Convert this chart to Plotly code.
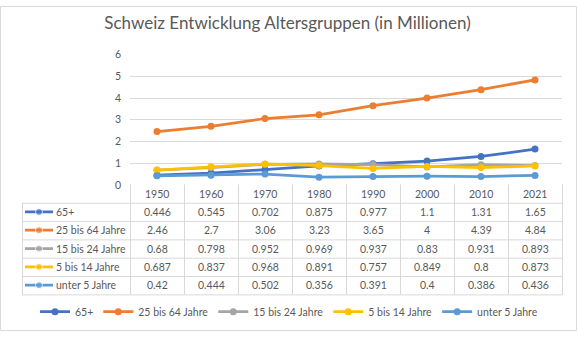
import plotly.graph_objects as go

years = ["1950", "1960", "1970", "1980", "1990", "2000", "2010", "2021"]
names = ["65+", "25 bis 64 Jahre", "15 bis 24 Jahre", "5 bis 14 Jahre", "unter 5 Jahre"]
v65 = [0.446, 0.545, 0.702, 0.875, 0.977, 1.1, 1.31, 1.65]
v25_64 = [2.46, 2.7, 3.06, 3.23, 3.65, 4, 4.39, 4.84]
v15_24 = [0.68, 0.798, 0.952, 0.969, 0.937, 0.83, 0.931, 0.893]
v5_14 = [0.687, 0.837, 0.968, 0.891, 0.757, 0.849, 0.8, 0.873]
vu5 = [0.42, 0.444, 0.502, 0.356, 0.391, 0.4, 0.386, 0.436]
colors = ["#4472C4", "#ED7D31", "#A5A5A5", "#FFC000", "#5B9BD5"]
series = [v65, v25_64, v15_24, v5_14, vu5]

W, H = 578, 338
def px(x):
    return x / W
def py(y):
    return 1 - y / H

TXT = "#595959"
GRID = "#d9d9d9"
FONT = "Lato"
FS = 10.5

# table geometry (pixels)
T_LEFT, T_LABEL_RIGHT, T_RIGHT = 22, 130, 562
T_TOP, ROW_H = 185, 19
n_rows = len(names)
n_cols = len(years)
col_w = (T_RIGHT - T_LABEL_RIGHT) / n_cols
body_top = T_TOP + ROW_H
body_bottom = body_top + ROW_H * n_rows

fig = go.Figure()
idx = list(range(n_cols))
for name, vals, col in zip(names, series, colors):
    fig.add_trace(go.Scatter(
        x=idx, y=vals, name=name, mode="lines+markers",
        line=dict(color=col, width=2.75), marker=dict(color=col, size=7),
        xaxis="x", yaxis="y", hoverinfo="skip"))

# legend keys inside the data table (first column)
for i, (name, col) in enumerate(zip(names, colors)):
    fig.add_trace(go.Scatter(
        x=[3, 17, 31], y=[i + 0.5] * 3, mode="lines+markers",
        line=dict(color=col, width=2.75), marker=dict(color=col, size=[0, 7, 0]),
        xaxis="x2", yaxis="y2", showlegend=False, hoverinfo="skip"))
    fig.add_annotation(x=32, y=i + 0.5, xref="x2", yref="y2", text=name,
                       showarrow=False, xanchor="left", yanchor="middle",
                       font=dict(family=FONT, size=FS, color=TXT))

# header (years)
for j, yr in enumerate(years):
    fig.add_annotation(x=j, y=py(T_TOP + ROW_H / 2), xref="x", yref="paper",
                       text=yr, showarrow=False, xanchor="center", yanchor="middle",
                       font=dict(family=FONT, size=FS, color=TXT))
# values
for i, s in enumerate(series):
    for j, v in enumerate(s):
        fig.add_annotation(x=j, y=i + 0.5, xref="x", yref="y2",
                           text=f"{v:g}", showarrow=False, xanchor="center",
                           yanchor="middle",
                           font=dict(family=FONT, size=FS, color=TXT))

shapes = [
    dict(type="rect", xref="paper", yref="paper", x0=px(0.5), x1=px(576.5),
         y0=py(336.5), y1=py(0.5), line=dict(color=GRID, width=1), layer="below"),
]
line_style = dict(color=GRID, width=1)
# horizontal table lines
for r in range(n_rows + 1):
    yy = body_top + r * ROW_H + 0.5
    shapes.append(dict(type="line", xref="paper", yref="paper", x0=px(T_LEFT), x1=px(T_RIGHT + 0.5),
                       y0=py(yy), y1=py(yy), line=line_style, layer="below"))
# vertical lines
shapes.append(dict(type="line", xref="paper", yref="paper", x0=px(T_LEFT + 0.5), x1=px(T_LEFT + 0.5),
                   y0=py(body_top), y1=py(body_bottom + 0.5), line=line_style, layer="below"))
for c in range(n_cols + 1):
    xx = T_LABEL_RIGHT + c * col_w + 0.5
    shapes.append(dict(type="line", xref="paper", yref="paper", x0=px(xx), x1=px(xx),
                       y0=py(T_TOP), y1=py(body_bottom + 0.5), line=line_style, layer="below"))

fig.update_layout(
    width=W, height=H, margin=dict(l=0, r=0, t=0, b=0),
    paper_bgcolor="white", plot_bgcolor="white",
    title=dict(text="Schweiz Entwicklung Altersgruppen (in Millionen)",
               x=px(287.5), xanchor="center", y=py(23), yanchor="middle",
               font=dict(family=FONT, size=17, color=TXT)),
    xaxis=dict(domain=[px(T_LABEL_RIGHT), px(T_RIGHT)], range=[-0.5, n_cols - 0.5], visible=False),
    yaxis=dict(domain=[py(T_TOP + 0.5), py(50.5)], range=[0, 6], dtick=1,
               showgrid=True, gridcolor=GRID, gridwidth=1, zeroline=False,
               showline=False, ticks="", ticklabelstandoff=8,
               tickfont=dict(family=FONT, size=FS, color=TXT)),
    xaxis2=dict(domain=[px(T_LEFT), px(T_LABEL_RIGHT)], range=[0, T_LABEL_RIGHT - T_LEFT], visible=False),
    yaxis2=dict(domain=[py(body_bottom), py(body_top)], range=[n_rows, 0], visible=False),
    legend=dict(orientation="h", x=0.5, xanchor="center", y=py(317), yanchor="middle",
                font=dict(family=FONT, size=FS, color=TXT), itemwidth=30,
                traceorder="normal"),
    shapes=shapes,
)

fig.write_html("out.html")
